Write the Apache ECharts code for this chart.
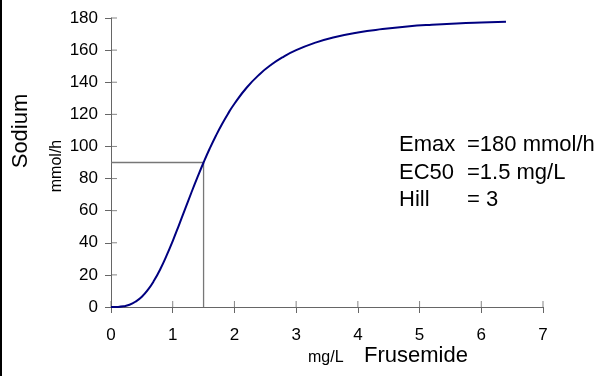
<!DOCTYPE html>
<html><head><meta charset="utf-8">
<script src="https://cdn.jsdelivr.net/npm/echarts@6/dist/echarts.min.js"></script>
<style>html,body{margin:0;padding:0;background:#fff}#c{width:610px;height:376px}</style>
</head><body><div id="c"></div>
<script>
// Concentration (mg/L) and effect (mmol/h)
const conc = [0,0.1,0.2,0.3,0.4,0.5,0.6,0.7,0.8,0.9,1.0,1.1,1.2,1.3,1.4,1.5,1.6,1.7,1.8,1.9,2.0,2.2,2.4,2.6,2.8,3.0,3.3,3.6,4.0,4.4,4.8,5.2,5.6,6.0,6.4];
const sodium = [0,0.05,0.4,1.4,3.4,6.4,10.8,16.6,23.7,32.0,41.1,50.9,61.0,71.0,80.7,90.0,98.7,106.7,114.0,120.6,126.6,136.7,144.7,151.0,156.0,160.0,164.5,167.9,171.0,173.1,174.7,175.8,176.6,177.2,177.7];
// EC50 guide lines
const refX = [0, 1.5, 1.5];
const refY = [90, 90, 0];
const xTicks = [0,1,2,3,4,5,6,7];
const yTicks = [0,20,40,60,80,100,120,140,160,180];
const annLabels = ['Emax', 'EC50', 'Hill'];
const annValues = ['=180 mmol/h', '=1.5 mg/L', '= 3'];

const chart = echarts.init(document.getElementById('c'));
const font = '"Liberation Sans", Arial, sans-serif';
const axisCol = '#666';
const grid = {left:111, right:67, top:18, bottom:69};
const graphics = [
  {type:'rect', left:0, top:0, shape:{width:2, height:376}, style:{fill:'#000'}},
  {type:'text', x:21, y:131, rotation:Math.PI/2, style:{text:'Sodium', font:'22px '+font, fill:'#000', align:'center', verticalAlign:'middle'}},
  {type:'text', x:57, y:166, rotation:Math.PI/2, style:{text:'mmol/h', font:'16px '+font, fill:'#000', align:'center', verticalAlign:'middle'}},
  {type:'text', x:308, y:358, style:{text:'mg/L', font:'16px '+font, fill:'#000', align:'left', verticalAlign:'middle'}},
  {type:'text', x:364, y:356, style:{text:'Frusemide', font:'22px '+font, fill:'#000', align:'left', verticalAlign:'middle'}}
];
annLabels.forEach((t,i)=>{
  graphics.push({type:'text', x:399, y:145+i*27.5, style:{text:t, font:'22px '+font, fill:'#000', align:'left', verticalAlign:'middle'}});
  graphics.push({type:'text', x:467, y:145+i*27.5, style:{text:annValues[i], font:'22px '+font, fill:'#000', align:'left', verticalAlign:'middle'}});
});
chart.setOption({
  animation:false,
  backgroundColor:'#fff',
  grid:grid,
  xAxis:{type:'value', min:xTicks[0], max:xTicks[xTicks.length-1], interval:1,
    axisLine:{show:true, onZero:false, lineStyle:{color:axisCol, width:1}},
    axisTick:{show:true, length:6, lineStyle:{color:axisCol}},
    axisLabel:{margin:20, color:'#000', fontSize:17, fontFamily:font},
    splitLine:{show:false}},
  yAxis:{type:'value', min:yTicks[0], max:yTicks[yTicks.length-1], interval:20,
    axisLine:{show:true, onZero:false, lineStyle:{color:axisCol, width:1}},
    axisTick:{show:true, length:6, lineStyle:{color:axisCol}},
    axisLabel:{margin:13, color:'#000', fontSize:17, fontFamily:font},
    splitLine:{show:false}},
  graphic:graphics,
  series:[
    // inner halves of the cross ticks
    {type:'scatter', data:xTicks.map(x=>[x, yTicks[0]]), symbol:'rect', symbolSize:[1,6], symbolOffset:[0,-3],
     itemStyle:{color:axisCol}, clip:false, silent:true, z:1},
    {type:'scatter', data:yTicks.map(y=>[xTicks[0], y]), symbol:'rect', symbolSize:[6,1], symbolOffset:[3,0],
     itemStyle:{color:axisCol}, clip:false, silent:true, z:1},
    {type:'line', data:refX.map((x,i)=>[x,refY[i]]), symbol:'none',
     lineStyle:{color:'#777', width:1.3}, z:2},
    {type:'line', data:conc.map((x,i)=>[x,sodium[i]]), symbol:'none', smooth:true,
     lineStyle:{color:'#000080', width:2}, z:3}
  ]
});
</script></body></html>
